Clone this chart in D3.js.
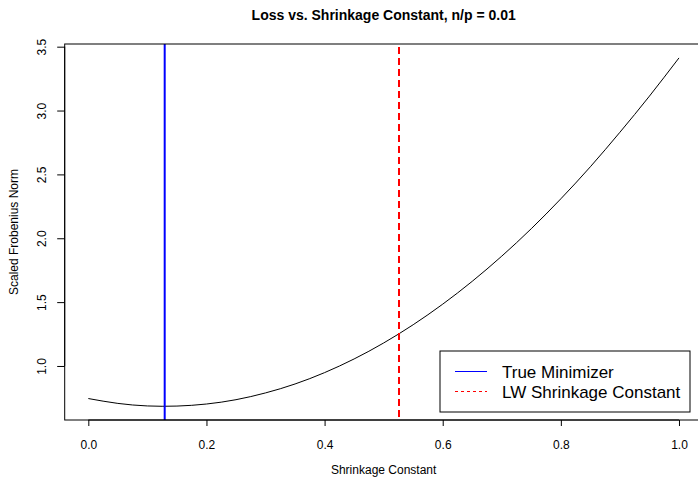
<!DOCTYPE html>
<html>
<head>
<meta charset="utf-8">
<script src="https://cdn.jsdelivr.net/npm/d3@7"></script>
<style>
  body { margin: 0; background: #fff; }
  svg { display: block; font-family: "Liberation Sans", Arial, sans-serif; }
</style>
</head>
<body>
<div id="chart"></div>
<script>
// datos
var shrink = [0, 0.05, 0.1, 0.15, 0.2, 0.25, 0.3, 0.35, 0.4, 0.45, 0.5,
              0.55, 0.6, 0.65, 0.7, 0.75, 0.8, 0.85, 0.9, 0.95, 1.0];
var loss = [0.745, 0.707, 0.687, 0.686, 0.702, 0.736, 0.789, 0.859, 0.948, 1.055, 1.180,
            1.323, 1.484, 1.663, 1.860, 2.075, 2.309, 2.560, 2.830, 3.113, 3.412];
var trueMin = 0.1293;     // linea azul
var lwConst = 0.526;      // linea roja punteada
var xTicks = [0, 0.2, 0.4, 0.6, 0.8, 1.0];
var yTicks = [1.0, 1.5, 2.0, 2.5, 3.0, 3.5];
var legendLabels = ["True Minimizer", "LW Shrinkage Constant"];

var W = 698, H = 477;
var margin = { top: 44, left: 64.7, right: 702.6, bottom: 420 };

var svg = d3.select("#chart").append("svg")
    .attr("width", W)
    .attr("height", H);

// escalas con el 4% de R
var xr = d3.extent(shrink), yr = d3.extent(loss);
var px = (xr[1] - xr[0]) * 0.04, py = (yr[1] - yr[0]) * 0.04;
var x = d3.scaleLinear()
    .domain([xr[0] - px, xr[1] + px])
    .range([margin.left, margin.right]);
var y = d3.scaleLinear()
    .domain([yr[0] - py, yr[1] + py])
    .range([margin.bottom, margin.top]);

svg.append("clipPath").attr("id", "clip")
  .append("rect")
    .attr("x", margin.left).attr("y", margin.top)
    .attr("width", margin.right - margin.left)
    .attr("height", margin.bottom - margin.top);

var plot = svg.append("g").attr("clip-path", "url(#clip)");

// curva
plot.append("path")
    .datum(shrink)
    .attr("d", d3.line()
      .curve(d3.curveNatural)
      .x(function(d) { return x(d); })
      .y(function(d, i) { return y(loss[i]); }))
    .attr("fill", "none")
    .attr("stroke", "#000")
    .attr("stroke-width", 1);

// lineas verticales
plot.append("line")
    .attr("x1", x(trueMin)).attr("x2", x(trueMin))
    .attr("y1", margin.top).attr("y2", margin.bottom)
    .attr("stroke", "#0000ff")
    .attr("stroke-width", 2);

plot.append("line")
    .attr("x1", x(lwConst)).attr("x2", x(lwConst))
    .attr("y1", margin.top + 3).attr("y2", margin.bottom)
    .attr("stroke", "#ff0000")
    .attr("stroke-width", 2)
    .attr("stroke-dasharray", "7,4");

// caja
svg.append("rect")
    .attr("x", margin.left).attr("y", margin.top)
    .attr("width", margin.right - margin.left)
    .attr("height", margin.bottom - margin.top)
    .attr("fill", "none")
    .attr("stroke", "#000")
    .attr("stroke-width", 1);

// eje x
var gx = svg.append("g")
    .attr("transform", "translate(0," + margin.bottom + ")")
    .call(d3.axisBottom(x).tickValues(xTicks).tickSize(6).tickPadding(14)
      .tickFormat(d3.format(".1f")));
gx.select(".domain")
    .attr("d", "M" + x(xTicks[0]) + ",0H" + x(xTicks[xTicks.length - 1]));
gx.selectAll("text").attr("font-size", 12).attr("font-family", "Liberation Sans, Arial, sans-serif");

// eje y
var gy = svg.append("g")
    .attr("transform", "translate(" + margin.left + ",0)")
    .call(d3.axisLeft(y).tickValues(yTicks).tickSize(7.5)
      .tickFormat(d3.format(".1f")));
gy.select(".domain")
    .attr("d", "M0," + y(yTicks[0]) + "V" + y(yTicks[yTicks.length - 1]));
gy.selectAll("text")
    .attr("font-size", 12)
    .attr("font-family", "Liberation Sans, Arial, sans-serif")
    .attr("x", 0).attr("dy", 0)
    .attr("text-anchor", "middle")
    .attr("transform", "translate(-19,0) rotate(-90)");

// titulos
svg.append("text")
    .attr("x", (margin.left + margin.right) / 2)
    .attr("y", 20)
    .attr("text-anchor", "middle")
    .attr("font-size", 14)
    .attr("font-weight", "bold")
    .text("Loss vs. Shrinkage Constant, n/p = 0.01");

svg.append("text")
    .attr("x", (margin.left + margin.right) / 2)
    .attr("y", 474)
    .attr("text-anchor", "middle")
    .attr("font-size", 12)
    .text("Shrinkage Constant");

svg.append("text")
    .attr("transform", "translate(18," + ((margin.top + margin.bottom) / 2) + ") rotate(-90)")
    .attr("text-anchor", "middle")
    .attr("font-size", 12)
    .text("Scaled Frobenius Norm");

// leyenda
var leg = svg.append("g");
leg.append("rect")
    .attr("x", 440).attr("y", 351)
    .attr("width", 250).attr("height", 61)
    .attr("fill", "#fff")
    .attr("stroke", "#000");
var legStyle = [
  { color: "#0000ff", dash: null },
  { color: "#ff0000", dash: "3,3" }
];
legendLabels.forEach(function(lab, i) {
  var yy = 371.5 + i * 20;
  leg.append("line")
      .attr("x1", 455).attr("x2", 487)
      .attr("y1", yy).attr("y2", yy)
      .attr("stroke", legStyle[i].color)
      .attr("stroke-width", 1)
      .attr("stroke-dasharray", legStyle[i].dash);
  leg.append("text")
      .attr("x", 502).attr("y", yy + 6)
      .attr("font-size", 17)
      .text(lab);
});
</script>
</body>
</html>
